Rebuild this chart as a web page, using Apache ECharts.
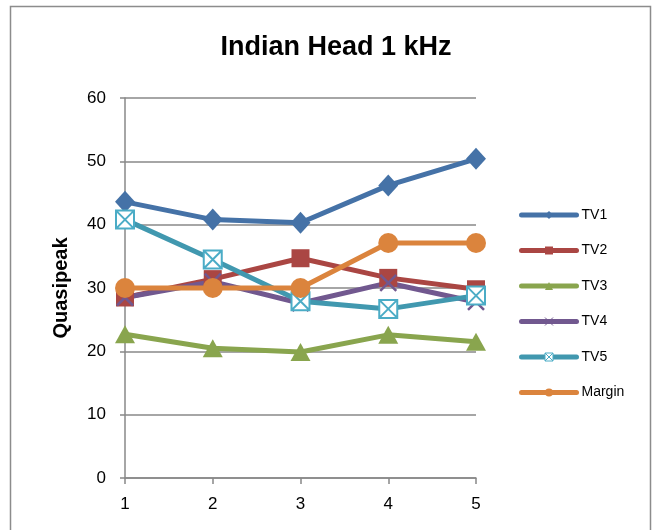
<!DOCTYPE html>
<html>
<head>
<meta charset="utf-8">
<script src="https://cdn.jsdelivr.net/npm/echarts@6/dist/echarts.min.js"></script>
<style>
  html, body { margin: 0; padding: 0; background: #fff; }
  #chart { width: 652px; height: 530px; }
</style>
</head>
<body>
<div id="chart"></div>
<script>
// Measurement points along the x axis
const categories = ['1', '2', '3', '4', '5'];

// Quasipeak readings per TV set, plus the margin line
const tv1 = [43.6, 40.8, 40.3, 46.2, 50.4];
const tv2 = [28.5, 31.4, 34.7, 31.6, 29.8];
const tv3 = [22.7, 20.5, 19.9, 22.6, 21.5];
const tv4 = [28.5, 31.0, 27.6, 30.8, 27.8];
const tv5 = [40.8, 34.5, 27.9, 26.7, 28.8];
const margin = [30.0, 30.0, 30.0, 37.1, 37.1];

const seriesNames = ['TV1', 'TV2', 'TV3', 'TV4', 'TV5', 'Margin'];
const yTicks = { min: 0, max: 60, interval: 10 };

const FONT = '"Liberation Sans", Arial, sans-serif';
const symbolX = 'path://M0,0L10,10M10,0L0,10';
const symbolBoxX = 'path://M0,0H10V10H0ZM0,0L10,10M10,0L0,10';

function lineSeries(name, data, color, symbol, size, extraItem) {
  return {
    name: name,
    type: 'line',
    data: data,
    symbol: symbol,
    symbolSize: size,
    showAllSymbol: true,
    lineStyle: { color: color, width: 5 },
    itemStyle: Object.assign({ color: color }, extraItem || {}),
    emphasis: { disabled: true },
    z: 2
  };
}

const chart = echarts.init(document.getElementById('chart'), null, { renderer: 'canvas' });

chart.setOption({
  animation: false,
  backgroundColor: '#ffffff',
  title: {
    text: 'Indian Head 1 kHz',
    left: 331,
    top: 29,
    textAlign: 'center',
    textStyle: { fontFamily: FONT, fontSize: 27, fontWeight: 'bold', color: '#000' }
  },
  graphic: [{
    type: 'rect',
    shape: { x: 10.5, y: 6.5, width: 640, height: 540 },
    style: { fill: 'none', stroke: '#8c8c8c', lineWidth: 1.5 },
    silent: true,
    z: 0
  }],
  legend: {
    orient: 'vertical',
    left: 519,
    top: 208,
    padding: 0,
    itemWidth: 55,
    itemHeight: 10,
    itemGap: 21.5,
    data: seriesNames,
    textStyle: { fontFamily: FONT, fontSize: 14, color: '#000', lineHeight: 14 },
    lineStyle: { width: 5, cap: 'round' },
    itemStyle: { borderWidth: 1 }
  },
  grid: { left: 125, right: 176, top: 98, bottom: 52, containLabel: false },
  xAxis: {
    type: 'category',
    data: categories,
    boundaryGap: false,
    axisLine: { lineStyle: { color: '#888', width: 1.5 } },
    axisTick: { show: true, alignWithLabel: true, length: 6, lineStyle: { color: '#888', width: 1.5 } },
    axisLabel: { fontFamily: FONT, fontSize: 17, color: '#000', margin: 18 },
    splitLine: { show: false }
  },
  yAxis: {
    type: 'value',
    min: yTicks.min,
    max: yTicks.max,
    interval: yTicks.interval,
    name: 'Quasipeak',
    nameLocation: 'middle',
    nameGap: 54,
    nameTextStyle: { fontFamily: FONT, fontSize: 20, fontWeight: 'bold', color: '#000' },
    axisLine: { show: true, lineStyle: { color: '#888', width: 1.5 } },
    axisTick: { show: true, length: 5, lineStyle: { color: '#888', width: 1.5 } },
    axisLabel: { fontFamily: FONT, fontSize: 17, color: '#000', margin: 19 },
    splitLine: { show: true, lineStyle: { color: '#888', width: 1.5 } }
  },
  series: [
    lineSeries('TV1', tv1, '#4572A7', 'diamond', [20, 22]),
    lineSeries('TV2', tv2, '#AA4643', 'rect', 18),
    lineSeries('TV3', tv3, '#89A54E', 'triangle', [20, 18]),
    lineSeries('TV4', tv4, '#71588F', symbolX, 16, { borderColor: '#71588F', borderWidth: 2.5 }),
    lineSeries('TV5', tv5, '#4198AF', symbolBoxX, 18, { color: '#ffffff', borderColor: '#4BACC6', borderWidth: 2 }),
    lineSeries('Margin', margin, '#DB843D', 'circle', 20)
  ]
});
</script>
</body>
</html>
